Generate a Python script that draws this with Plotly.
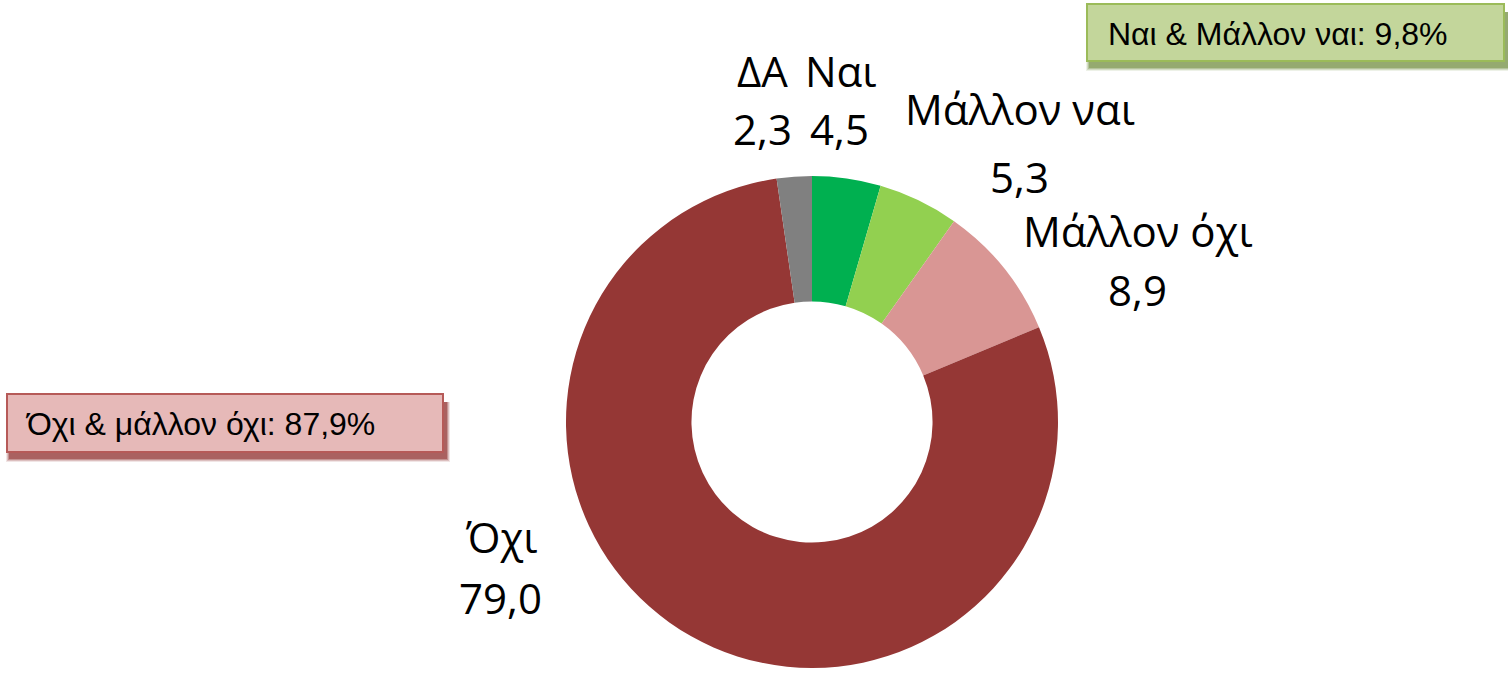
import plotly.graph_objects as go

# Data
categories = ["Ναι", "Μάλλον ναι", "Μάλλον όχι", "Όχι", "ΔΑ"]
values = [4.5, 5.3, 8.9, 79.0, 2.3]
value_labels = ["4,5", "5,3", "8,9", "79,0", "2,3"]
colors = ["#00B050", "#92D050", "#D99694", "#953735", "#808080"]
summary_yes = "Ναι & Μάλλον ναι: 9,8%"
summary_no = "Όχι & μάλλον όχι: 87,9%"

W, H = 1508, 678


def px(x):
    return x / W


def py(y):
    return 1 - y / H


# pie geometry (pixels)
cx, cy, r = 812, 422, 246

fig = go.Figure(
    go.Pie(
        labels=categories,
        values=values,
        hole=0.49,
        sort=False,
        direction="clockwise",
        rotation=0,
        marker=dict(colors=colors, line=dict(width=0)),
        textinfo="none",
        hoverinfo="label+value",
        showlegend=False,
        domain=dict(x=[px(cx - r), px(cx + r)], y=[py(cy + r), py(cy - r)]),
    )
)

# label positions (pixel centres of name line and value line)
label_pos = {
    "Ναι": (841, 70, 839, 128),
    "Μάλλον ναι": (1020, 108, 1019, 176),
    "Μάλλον όχι": (1138, 230, 1137, 289),
    "Όχι": (502, 536, 500, 597),
    "ΔΑ": (762, 71, 762, 129),
}

lab_font = dict(family="Open Sans", size=42, color="#000000")
annotations = []
for name, val in zip(categories, value_labels):
    x1, y1, x2, y2 = label_pos[name]
    annotations.append(dict(x=px(x1), y=py(y1), xref="paper", yref="paper", text=name,
                            showarrow=False, font=lab_font, xanchor="center", yanchor="middle"))
    annotations.append(dict(x=px(x2), y=py(y2), xref="paper", yref="paper", text=val,
                            showarrow=False, font=lab_font, xanchor="center", yanchor="middle"))

box_font = dict(family="Liberation Sans, Arial", size=32, color="#000000")
shapes = []


def add_box(x0, y0, x1, y1, fill, border, shadow, text, tx):
    # soft shadow below the box
    for i, a in enumerate([0.12, 0.2, 0.3, 0.45]):
        d = 2 * (4 - i)
        shapes.append(dict(type="rect", xref="paper", yref="paper",
                           x0=px(x0 + 3 - d / 2), x1=px(x1 + 3 + d / 2),
                           y0=py(y1 + 6 + d / 2), y1=py(y0 + 8),
                           fillcolor=shadow.format(a=a), line=dict(width=0), layer="below"))
    shapes.append(dict(type="rect", xref="paper", yref="paper",
                       x0=px(x0), x1=px(x1), y0=py(y1), y1=py(y0),
                       fillcolor=fill, line=dict(color=border, width=2)))
    annotations.append(dict(x=px(tx), y=py((y0 + y1) / 2 + 1), xref="paper", yref="paper",
                            text=text, showarrow=False, font=box_font,
                            xanchor="left", yanchor="middle"))


add_box(1087, 4, 1504, 61, "#C3D69B", "#9BBB59", "rgba(110,140,60,{a})", summary_yes, 1106)
add_box(7, 394, 443, 452, "#E6B9B8", "#B65A58", "rgba(140,40,38,{a})", summary_no, 23)

fig.update_layout(
    width=W,
    height=H,
    margin=dict(l=0, r=0, t=0, b=0),
    paper_bgcolor="#FFFFFF",
    plot_bgcolor="#FFFFFF",
    annotations=annotations,
    shapes=shapes,
)

fig.write_html("out.html", config={"displayModeBar": False},
               post_script="document.body.style.margin='0';")
